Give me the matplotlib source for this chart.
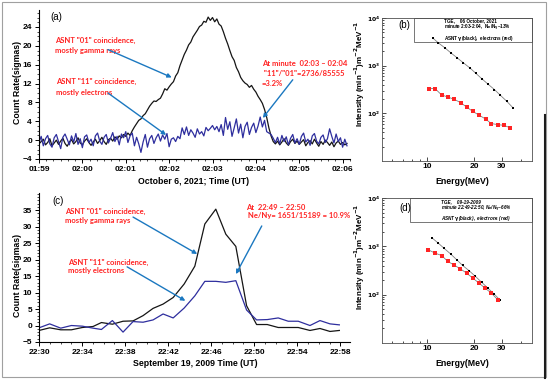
import numpy as np
import matplotlib
matplotlib.use("Agg")
import matplotlib.pyplot as plt
from matplotlib.ticker import FixedLocator, MultipleLocator, NullFormatter, FixedFormatter
from matplotlib.patches import Rectangle
from matplotlib.lines import Line2D

plt.rcParams['font.family'] = ['Liberation Sans', 'DejaVu Sans']
plt.rcParams['mathtext.default'] = 'bf'

# ---------------- data ----------------
# panel (a): minutes since 01:59, 3-s sampling
a_step = 0.05
a_black = [-0.8, -0.3, 0.2, -1.0, -0.5, 0.3, -1.2, -0.6, 0.0, -0.9, -0.2, 0.4, -0.7, -1.3, -0.4, 0.1, -0.8, -0.3, 0.5, -0.6,
           -1.0, -0.2, 0.3, -0.5, -1.1, -0.4, 0.2, -0.7, -0.1, 0.6, -0.3, -0.9, 0.1, 0.4, -0.2, 0.7, 0.2, 0.9, 0.5, 1.2,
           0.8, 1.5, 1.0, 2.0, 2.8, 3.5, 4.2, 4.5, 5.2, 5.6, 6.4, 7.2, 7.8, 8.3, 8.2, 8.6, 8.9, 9.8, 10.9, 10.6,
           11.3, 11.9, 12.4, 13.6, 14.3, 15.8, 17.0, 18.2, 19.1, 20.2, 20.8, 21.9, 22.6, 23.3, 24.1, 24.4, 25.2, 25.0, 26.1, 25.4,
           26.0, 25.1, 25.7, 24.6, 24.2, 23.0, 21.6, 20.4, 19.0, 17.7, 16.9, 15.4, 14.5, 13.3, 12.6, 12.1, 11.8, 11.2, 11.6, 10.8,
           10.2, 9.3, 8.6, 7.8, 6.5, 4.8, 2.6, 0.9, -0.3, -0.8, -0.2, -1.0, -0.4, 0.3, -0.6, -1.1, -0.3, 0.2, -0.7, -0.2,
           -0.9, -0.4, 0.1, -1.2, -0.5, -0.1, -0.8, 0.2, -0.6, -1.3, -0.3, -0.9, 0.0, -0.5, -1.1, -0.4, -1.4, -0.6, -0.2, -0.9,
           -0.5, -1.0, -0.7]
a_blue = [-0.5, 0.8, -1.2, 0.3, 1.0, -0.8, -1.5, 0.5, 1.2, -0.3, -1.8, 0.6, 1.3, 0.2, -1.0, 0.9, -0.4, 1.4, -0.9, 0.3,
          -1.6, 0.7, 1.1, -0.5, 0.2, -1.2, 0.9, 1.5, -0.2, -0.9, 0.6, 1.2, -0.6, 0.4, 1.6, -0.3, 0.8, -1.0, 1.3, 0.5,
          1.8, -0.5, 0.9, 1.5, -1.2, 0.6, -0.8, -2.6, -0.4, 1.2, -1.5, 0.3, 1.0, -0.7, 0.5, 1.3, -0.2, 1.1, 0.2, 1.4,
          -1.4, 0.2, 0.5, -0.3, 0.8, 0.3, 2.6, 1.2, 2.8, 1.0, 2.2, 1.5, 0.6, 2.4, 1.3, 1.8, 0.9, 2.7, 2.0, 2.5,
          3.1, 2.2, 2.9, 1.8, 3.3, 1.0, 4.8, 2.3, 3.9, 0.8, 2.6, 4.5, 1.5, 3.4, 0.5, 2.9, 3.8, 1.2, 2.7, 3.6,
          1.6, 3.0, 4.9, 2.8, 4.2, 1.8, 1.5, 1.2, 0.4, -0.5, 0.6, -0.8, 1.0, -0.3, 0.7, -1.0, 0.4, 1.2, -0.6, 0.3,
          -0.9, 0.8, 1.5, -0.4, 0.2, -1.1, 0.9, 1.4, -0.2, -0.8, 0.6, 1.1, -0.5, 0.3, 2.4, 0.8, -0.6, 1.3, -0.3, 0.5,
          -1.5, 0.2, -1.2]
a_ticks = [0, 1, 2, 3, 4, 5, 6, 7]
a_ticklabels = ['01:59', '02:00', '02:01', '02:02', '02:03', '02:04', '02:05', '02:06']

# panel (c): minutes since 22:30
c_time = [0, 0.99, 2.02, 3.01, 4.03, 5.02, 5.80, 6.82, 7.81, 8.74, 9.67, 10.6, 11.53, 12.47, 13.49,
          14.48, 15.41, 16.43, 17.36, 18.29, 19.29, 20.22, 21.21, 22.23, 23.16, 24.09, 25.18, 26.11, 27.04, 27.91]
c_black = [-1.5, -0.7, -1.3, -1.3, -0.6, -0.3, 0.9, 0.4, 1.3, 1.4, 3.0, 5.2, 6.5, 8.5, 12.6,
           18.0, 30.8, 35.3, 27.7, 24.0, 6.0, 0.3, 0.3, -0.6, -0.6, -0.6, -1.5, -0.9, -1.8, -1.5]
c_blue = [-0.7, 0.5, -0.8, 0.0, -0.2, -0.8, -1.2, 1.5, -2.0, 1.2, 1.0, 1.7, 3.5, 2.3, 5.3,
          9.0, 13.4, 13.4, 13.1, 13.6, 4.7, 1.7, 1.8, 2.3, 1.3, 1.3, 0.0, 1.5, 0.5, 0.2]
c_ticks = [0, 4, 8, 12, 16, 20, 24, 28]
c_ticklabels = ['22:30', '22:34', '22:38', '22:42', '22:46', '22:50', '22:54', '22:58']

# panel (b): spectra 06 Oct 2021
b_gE = [10.9, 11.8, 13.0, 14.2, 15.6, 17.1, 18.9, 20.6, 22.5, 24.6, 27.0, 29.5, 32.4, 35.4]
b_gI = [3790, 3020, 2370, 1860, 1460, 1145, 885, 685, 527, 408, 316, 239, 179, 132]
b_eE = [10.25, 11.25, 12.4, 13.6, 14.9, 16.4, 17.9, 19.6, 21.5, 23.7, 25.8, 28.4, 31.0, 34.0]
b_eI = [331, 331, 243, 220, 197, 168, 136, 110, 92, 76, 61, 58, 56, 50]

# panel (d): spectra 19 Sep 2009
d_gE = [10.7, 11.8, 12.9, 14.2, 15.5, 16.9, 18.6, 20.4, 22.4, 24.5, 26.9, 29.5]
d_gI = [1520, 1165, 902, 690, 527, 402, 313, 239, 180, 137, 103, 76]
d_eE = [10.2, 11.25, 12.4, 13.6, 14.8, 16.3, 17.9, 19.6, 21.5, 23.5, 25.8, 28.4]
d_eI = [847, 724, 646, 486, 416, 344, 280, 221, 174, 137, 108, 78]

e_ticks = [10, 20, 30]
e_ticklabels = ['10', '20', '30']

# ---------------- styling ----------------
W, H = 550, 381
fig = plt.figure(figsize=(5.5, 3.81), dpi=100)
BLACK = '#151515'
BLUE = '#2e2e9e'
RED = '#ff2424'
ARROW = '#1b78c0'
RFONT = ['Lato', 'Liberation Sans', 'DejaVu Sans']

def fx(px):
    return px / W

def fy(py):
    return 1 - py / H

def box(l, t, r, b):
    return [l / W, 1 - b / H, (r - l) / W, (b - t) / H]

def style_ts(ax):
    for s in ['top', 'right']:
        ax.spines[s].set_visible(False)
    for s in ['left', 'bottom']:
        ax.spines[s].set_linewidth(0.8)
    ax.tick_params(which='major', length=3, width=0.7, labelsize=6, pad=2)
    ax.tick_params(which='minor', length=1.5, width=0.5)
    for lab in ax.get_xticklabels() + ax.get_yticklabels():
        lab.set_fontweight('bold')

def arrow(ax, tail, head):
    ax.annotate('', xy=head, xytext=tail,
                arrowprops=dict(arrowstyle='-|>', color=ARROW, lw=1.0, mutation_scale=6,
                                shrinkA=0, shrinkB=0))

def rtext(ax, x, y, s, ls=1.5):
    ax.text(x, y, s, color=RED, fontsize=5.5, family=RFONT, fontweight='bold',
            ha='left', va='center', linespacing=ls)

# ---------------- panel (a) ----------------
axa = fig.add_axes(box(39, 10, 350, 159))
ta = np.arange(len(a_black)) * a_step
axa.plot(ta, a_black, color=BLACK, lw=0.9)
axa.plot(ta, a_blue, color=BLUE, lw=0.9)
axa.set_xlim(0, 7.17)
axa.set_ylim(-4, 27.6)
axa.xaxis.set_major_locator(FixedLocator(a_ticks))
axa.xaxis.set_major_formatter(FixedFormatter(a_ticklabels))
axa.xaxis.set_minor_locator(MultipleLocator(1 / 6))
axa.yaxis.set_major_locator(MultipleLocator(4))
axa.yaxis.set_minor_locator(MultipleLocator(1))
style_ts(axa)
axa.text(0.035, 0.953, '(a)', transform=axa.transAxes, fontsize=7, ha='left', va='center')
rtext(axa, 0.37, 20.1, 'ASNT "01" coincidence,\nmostly gamma rays', ls=1.6)
rtext(axa, 0.39, 11.3, 'ASNT "11" coincidence,\nmostly electrons', ls=1.6)
rtext(axa, 5.14, 14.1, 'At minute  02:03 \u2013 02:04\n "11"/"01"=2736/85555\n=3.2%', ls=1.45)
arrow(axa, (1.59, 19.2), (3.06, 13.3))
arrow(axa, (1.59, 10.0), (2.93, 1.1))
arrow(axa, (5.85, 12.8), (5.16, 4.7))
fig.text(fx(194), fy(182), 'October 6, 2021; Time (UT)', fontsize=6.3, fontweight='bold',
         ha='center', va='center')
fig.text(fx(18), fy(82), 'Count Rate(sigmas)', fontsize=6.3, fontweight='bold',
         ha='center', va='center', rotation=90)

# ---------------- panel (c) ----------------
axc = fig.add_axes(box(39, 193, 350, 342))
axc.plot(c_time, c_black, color=BLACK, lw=0.9)
axc.plot(c_time, c_blue, color=BLUE, lw=0.9)
axc.set_xlim(0, 28.9)
axc.set_ylim(-5, 40.2)
axc.xaxis.set_major_locator(FixedLocator(c_ticks))
axc.xaxis.set_major_formatter(FixedFormatter(c_ticklabels))
axc.xaxis.set_minor_locator(MultipleLocator(1))
axc.yaxis.set_major_locator(FixedLocator([-5, 0, 5, 10, 15, 20, 25, 30, 35]))
axc.yaxis.set_minor_locator(MultipleLocator(1))
style_ts(axc)
axc.text(0.042, 0.946, '(c)', transform=axc.transAxes, fontsize=7, ha='left', va='center')
rtext(axc, 2.42, 33.3, 'ASNT "01" coincidence,\nmostly gamma rays', ls=1.3)
rtext(axc, 2.7, 17.9, 'ASNT "11" coincidence,\nmostly electrons', ls=1.3)
rtext(axc, 19.2, 34.6, 'At  22:49 \u2013 22:50\n Ne/Ny= 1651/15189 = 10.9%', ls=1.3)
arrow(axc, (8.74, 32.9), (14.7, 21.7))
arrow(axc, (8.19, 17.8), (13.6, 7.5))
arrow(axc, (20.7, 30.2), (18.3, 15.6))
fig.text(fx(195), fy(363), 'September 19, 2009 Time (UT)', fontsize=6.3, fontweight='bold',
         ha='center', va='center')
fig.text(fx(18), fy(275), 'Count Rate(sigmas)', fontsize=6.3, fontweight='bold',
         ha='center', va='center', rotation=90)

# ---------------- spectra panels ----------------
def spectrum(rect, gE, gI, eE, eI, label, lab_xy, lines, box_x0, box_y0, text_x, text_ys, italic):
    ax = fig.add_axes(rect)
    ax.plot(gE, gI, color='#808080', lw=0.6, zorder=1)
    ax.plot(eE, eI, color='#808080', lw=0.6, zorder=1)
    ax.plot(gE, gI, 's', color='black', ms=1.8, mew=0, zorder=2)
    ax.plot(eE, eI, 's', color=RED, ms=2.2, mew=0, zorder=2)
    ax.set_xscale('log')
    ax.set_yscale('log')
    ax.set_xlim(5.15, 47)
    ax.set_ylim(10, 1e4)
    ax.xaxis.set_major_locator(FixedLocator(e_ticks))
    ax.xaxis.set_major_formatter(FixedFormatter(e_ticklabels))
    ax.xaxis.set_minor_locator(FixedLocator([6, 7, 8, 9, 40]))
    ax.xaxis.set_minor_formatter(NullFormatter())
    ax.yaxis.set_major_locator(FixedLocator([100, 1000, 10000]))
    ax.yaxis.set_major_formatter(FixedFormatter([r'$10^2$', r'$10^3$', r'$10^4$']))
    ax.yaxis.set_minor_locator(FixedLocator([20, 30, 40, 50, 60, 70, 80, 90, 200, 300, 400, 500,
                                             600, 700, 800, 900, 2000, 3000, 4000, 5000, 6000,
                                             7000, 8000, 9000]))
    ax.yaxis.set_minor_formatter(NullFormatter())
    ax.tick_params(which='both', direction='in', top=False, right=False, width=0.5)
    ax.tick_params(which='major', length=3, pad=1.5)
    ax.tick_params(which='minor', length=1.5)
    ax.tick_params(axis='x', labelsize=6)
    ax.tick_params(axis='y', labelsize=4.4, pad=1)
    for lab in ax.get_xticklabels():
        lab.set_fontweight('bold')
    for s in ax.spines.values():
        s.set_linewidth(0.6)
        s.set_color('#505050')
    ax.text(lab_xy[0], lab_xy[1], label, transform=ax.transAxes, fontsize=7, ha='left', va='center')
    ax.add_patch(Rectangle((box_x0, box_y0), 1 - box_x0, 1 - box_y0, transform=ax.transAxes,
                           fill=False, edgecolor='#606060', lw=0.6, clip_on=False))
    for s, y in zip(lines, text_ys):
        ax.text(text_x, y, s, transform=ax.transAxes, fontsize=3.3, fontweight='bold',
                fontstyle='italic' if italic else 'normal', ha='left', va='center')
    return ax

spectrum(box(382, 18, 532, 161), b_gE, b_gI, b_eE, b_eI, '(b)', (0.107, 0.951),
         ['TGE,    06 October, 2021',
          r'minute 2:03-2:04,  N$_e$/N$_\gamma$~13%',
          r'ASNT $\gamma$(black),  electrons (red)'],
         0.213, 0.832, 0.413, [0.979, 0.928, 0.860], False)
spectrum(box(382, 198, 532, 343), d_gE, d_gI, d_eE, d_eI, '(d)', (0.113, 0.931),
         ['TGE,    09-19-2009',
          r'minute 22:49-22:50, N$_e$/N$_\gamma$~66%',
          r'ASNT $\gamma$(black),  electrons (red)'],
         0.187, 0.832, 0.393, [0.978, 0.928, 0.861], True)

ylab = r'Intensity (min$^{-1}$)m$^{-2}$MeV$^{-1}$'
fig.text(fx(360), fy(74), ylab, fontsize=5.8, fontweight='bold', ha='center', va='center', rotation=90)
fig.text(fx(360), fy(257), ylab, fontsize=5.8, fontweight='bold', ha='center', va='center', rotation=90)
fig.text(fx(462), fy(182), 'Energy(MeV)', fontsize=6.3, fontweight='bold', ha='center', va='center')
fig.text(fx(462), fy(363), 'Energy(MeV)', fontsize=6.3, fontweight='bold', ha='center', va='center')

# frame of the picture
fig.add_artist(Rectangle((fx(2), fy(377)), fx(544), (375) / H, transform=fig.transFigure,
                         fill=False, edgecolor='#a0a0a0', lw=0.8))
fig.add_artist(Line2D([fx(545), fx(545)], [fy(115), fy(378)], transform=fig.transFigure,
                      color='#1c1c1c', lw=1.5))

fig.savefig('out.png', dpi=100)
